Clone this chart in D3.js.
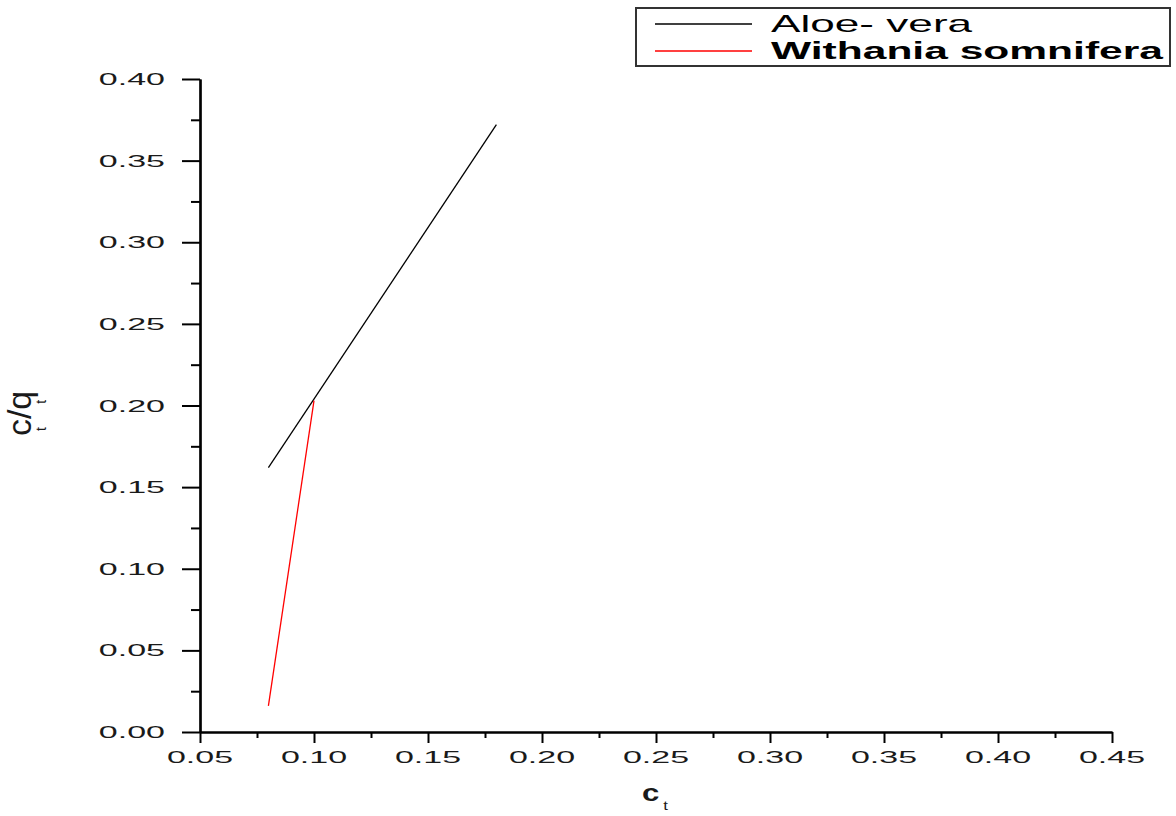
<!DOCTYPE html>
<html>
<head>
<meta charset="utf-8">
<script src="https://cdn.jsdelivr.net/npm/d3@7"></script>
<style>
  html, body { margin: 0; padding: 0; background: #fff; }
  svg { display: block; }
  text { font-family: "Liberation Sans", Arial, sans-serif; }
</style>
</head>
<body>
<svg id="chart" width="1176" height="816"></svg>
<script>
// Linearised isotherm: c_t/q_t against c_t
const aloeC = [0.08, 0.18];
const aloeCQ = [0.162, 0.372];
const withaniaC = [0.08, 0.10];
const withaniaCQ = [0.016, 0.203];

const seriesNames = ["Aloe- vera", "Withania somnifera"];
const seriesColors = ["#000000", "#ff0000"];

const xTicks = [0.05, 0.10, 0.15, 0.20, 0.25, 0.30, 0.35, 0.40, 0.45];
const xMinor = [0.075, 0.125, 0.175, 0.225, 0.275, 0.325, 0.375, 0.425];
const yTicks = [0.00, 0.05, 0.10, 0.15, 0.20, 0.25, 0.30, 0.35, 0.40];
const yMinor = [0.025, 0.075, 0.125, 0.175, 0.225, 0.275, 0.325, 0.375];

const svg = d3.select("#chart");
const plotLeft = 200, plotRight = 1112, plotTop = 79, plotBottom = 732;
const SX = 2.0; // horizontal text stretch

const x = d3.scaleLinear().domain([0.05, 0.45]).range([plotLeft, plotRight]);
const y = d3.scaleLinear().domain([0, 0.40]).range([plotBottom, plotTop]);

// stretched text helper
function stretchedText(g, px, py, str, size, anchor, weight) {
  const t = g.append("text")
    .attr("transform", `translate(${px},${py}) scale(${SX},1)`)
    .attr("font-size", size)
    .attr("text-anchor", anchor)
    .attr("fill", "#1a1a1a")
    .text(str);
  if (weight) t.attr("font-weight", weight);
  return t;
}

// Axes
const axisG = svg.append("g");
axisG.append("g").attr("transform", `translate(${plotLeft},0)`)
  .call(d3.axisLeft(y).tickValues(yTicks).tickSize(18).tickSizeOuter(0).tickFormat(""));
axisG.append("g").attr("transform", `translate(${plotLeft},0)`)
  .call(d3.axisLeft(y).tickValues(yMinor).tickSize(9).tickSizeOuter(0).tickFormat(""));
axisG.append("g").attr("transform", `translate(0,${plotBottom})`)
  .call(d3.axisBottom(x).tickValues(xTicks).tickSize(11).tickSizeOuter(0).tickFormat(""));
axisG.append("g").attr("transform", `translate(0,${plotBottom})`)
  .call(d3.axisBottom(x).tickValues(xMinor).tickSize(6).tickSizeOuter(0).tickFormat(""));

axisG.selectAll(".domain").attr("stroke", "#000").attr("stroke-width", 2.2);
axisG.selectAll(".tick line").attr("stroke", "#000").attr("stroke-width", 2);

// Tick labels
const labels = svg.append("g");
yTicks.forEach(v => {
  stretchedText(labels, 165, y(v) + 6, d3.format(".2f")(v), 17, "end");
});
xTicks.forEach(v => {
  stretchedText(labels, x(v), 763, d3.format(".2f")(v), 17, "middle");
});

// Axis titles
const xt = svg.append("text")
  .attr("transform", "translate(642,801) scale(1.3,1)")
  .attr("font-size", 24).attr("font-weight", "bold").attr("fill", "#1a1a1a");
xt.append("tspan").text("c");
xt.append("tspan").attr("font-size", 13).attr("font-weight", "normal")
  .attr("dx", 3).attr("dy", 9).text("t");

const yt = svg.append("text")
  .attr("transform", "translate(31,436) rotate(-90)")
  .attr("font-size", 34).attr("fill", "#1a1a1a");
yt.append("tspan").text("c");
yt.append("tspan").attr("font-size", 14).attr("dx", -12).attr("dy", 15).text("t");
yt.append("tspan").attr("dx", 8).attr("dy", -15).text("/q");
yt.append("tspan").attr("font-size", 14).attr("dx", -13).attr("dy", 15).text("t");

// Data lines
const line = d3.line().x(d => x(d[0])).y(d => y(d[1]));
const series = [
  d3.zip(aloeC, aloeCQ),
  d3.zip(withaniaC, withaniaCQ)
];
series.forEach((pts, i) => {
  svg.append("path")
    .datum(pts)
    .attr("d", line)
    .attr("fill", "none")
    .attr("stroke", seriesColors[i])
    .attr("stroke-width", 1.3);
});

// Legend
const lg = svg.append("g");
lg.append("rect").attr("x", 636).attr("y", 8).attr("width", 534).attr("height", 58)
  .attr("fill", "#fff").attr("stroke", "#333").attr("stroke-width", 2);
seriesNames.forEach((name, i) => {
  const yy = 24 + i * 27;
  lg.append("line").attr("x1", 655).attr("x2", 752).attr("y1", yy).attr("y2", yy)
    .attr("stroke", seriesColors[i]).attr("stroke-width", 1.3);
  const t = lg.append("text")
    .attr("transform", `translate(771,${yy + 8}) scale(${i === 0 ? 1.92 : 1.85},1)`)
    .attr("font-size", 23)
    .attr("fill", "#000")
    .text(name);
  if (i === 1) t.attr("font-weight", "bold");
});
</script>
</body>
</html>
